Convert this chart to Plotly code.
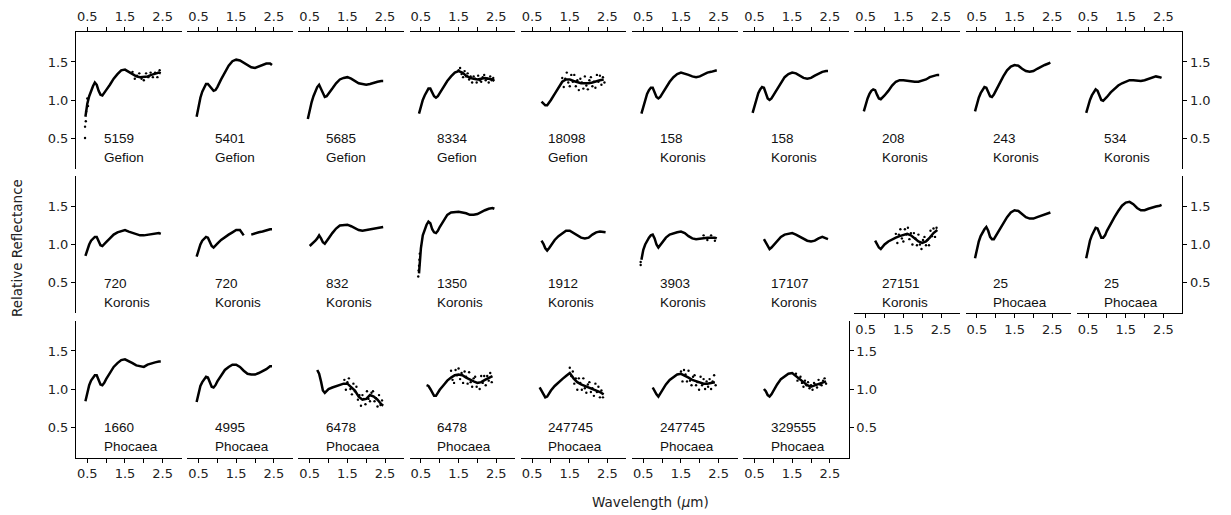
import plotly.graph_objects as go

# ---------------- data ----------------
N = None
WL = [0.45, 0.5, 0.55, 0.6, 0.65, 0.7, 0.75, 0.8, 0.85, 0.9, 0.95, 1.0, 1.1, 1.2,
      1.3, 1.4, 1.5, 1.6, 1.7, 1.8, 1.9, 2.0, 2.1, 2.2, 2.3, 2.4, 2.45]

r_5159 = [0.78,0.95,1.05,1.12,1.18,1.23,1.20,1.12,1.07,1.06,1.09,1.13,1.20,1.28,1.34,1.39,1.40,1.37,1.34,1.31,1.30,1.31,1.31,1.33,1.34,1.36,1.35]
r_5401 = [0.78,0.92,1.03,1.11,1.17,1.21,1.21,1.18,1.14,1.12,1.13,1.17,1.27,1.37,1.45,1.51,1.53,1.52,1.49,1.45,1.43,1.42,1.44,1.47,1.48,1.48,1.46]
r_5685 = [0.75,0.88,0.97,1.05,1.12,1.17,1.20,1.15,1.08,1.04,1.05,1.08,1.15,1.22,1.27,1.29,1.30,1.28,1.25,1.22,1.21,1.20,1.21,1.23,1.24,1.25,1.25]
r_8334 = [0.82,0.92,1.00,1.06,1.11,1.15,1.15,1.10,1.05,1.03,1.05,1.09,1.17,1.25,1.31,1.36,1.38,1.36,1.32,1.29,1.28,1.27,1.28,1.29,1.28,1.27,1.25]
r_18098 = [N,N,N,N,N,N,0.98,0.95,0.93,0.93,0.96,1.00,1.08,1.17,1.24,1.27,1.27,1.25,1.23,1.22,1.22,1.22,1.23,1.25,1.26,1.27,N]
r_158a = [0.82,0.92,1.01,1.08,1.13,1.16,1.16,1.10,1.04,1.02,1.04,1.08,1.16,1.24,1.30,1.34,1.36,1.35,1.33,1.31,1.30,1.31,1.34,1.36,1.37,1.38,1.39]
r_158b = [0.83,0.93,1.02,1.09,1.14,1.17,1.16,1.09,1.02,1.00,1.02,1.06,1.14,1.23,1.30,1.34,1.36,1.35,1.32,1.29,1.28,1.29,1.32,1.35,1.37,1.38,1.38]
r_208 = [0.85,0.94,1.02,1.08,1.12,1.14,1.13,1.07,1.02,1.01,1.03,1.06,1.12,1.19,1.24,1.26,1.26,1.25,1.24,1.24,1.24,1.25,1.27,1.30,1.32,1.33,1.33]
r_243 = [0.85,0.95,1.03,1.09,1.14,1.17,1.16,1.10,1.05,1.04,1.07,1.12,1.22,1.31,1.39,1.44,1.46,1.45,1.41,1.38,1.37,1.38,1.41,1.44,1.46,1.48,1.49]
r_534 = [0.83,0.92,1.00,1.06,1.11,1.14,1.12,1.05,1.00,0.99,1.01,1.04,1.10,1.15,1.19,1.22,1.24,1.26,1.26,1.25,1.25,1.26,1.28,1.30,1.31,1.30,1.29]
r_720a = [0.85,0.94,1.00,1.05,1.08,1.10,1.10,1.05,0.99,0.98,1.00,1.03,1.08,1.13,1.16,1.18,1.19,1.17,1.15,1.13,1.12,1.12,1.13,1.14,1.15,1.15,1.14]
r_720b = [0.84,0.93,1.00,1.05,1.08,1.10,1.09,1.03,0.98,0.96,0.98,1.01,1.06,1.10,1.13,1.16,1.19,1.19,1.12,N,1.13,1.15,1.16,1.17,1.19,1.20,1.20]
r_832 = [N,0.98,1.00,1.03,1.05,1.08,1.12,1.08,1.03,1.01,1.04,1.08,1.15,1.21,1.25,1.26,1.26,1.24,1.21,1.19,1.18,1.19,1.20,1.21,1.22,1.23,1.23]
r_1350 = [0.62,0.95,1.12,1.20,1.26,1.30,1.28,1.20,1.16,1.15,1.18,1.23,1.32,1.39,1.42,1.43,1.43,1.42,1.41,1.39,1.39,1.40,1.43,1.45,1.47,1.48,1.47]
r_1912 = [N,N,N,N,N,N,1.05,1.01,0.95,0.92,0.95,0.99,1.06,1.11,1.15,1.18,1.18,1.15,1.12,1.09,1.08,1.09,1.13,1.16,1.17,1.16,1.16]
r_3903 = [0.80,0.93,1.00,1.05,1.09,1.12,1.13,1.08,1.00,0.96,0.99,1.03,1.09,1.13,1.15,1.16,1.17,1.15,1.11,1.08,1.07,1.08,1.09,1.09,1.09,1.09,1.08]
r_17107 = [N,N,N,N,N,N,1.07,1.03,0.98,0.94,0.96,0.99,1.05,1.10,1.13,1.14,1.15,1.13,1.10,1.07,1.05,1.04,1.05,1.08,1.10,1.08,1.07]
r_27151 = [N,N,N,N,N,N,1.05,1.00,0.96,0.94,0.97,1.00,1.04,1.07,1.09,1.11,1.13,1.14,1.12,1.08,1.04,1.02,1.04,1.09,1.15,1.19,N]
r_25a = [0.82,0.94,1.04,1.11,1.16,1.20,1.23,1.18,1.10,1.07,1.07,1.11,1.20,1.28,1.36,1.42,1.45,1.44,1.40,1.36,1.34,1.34,1.36,1.38,1.40,1.41,1.42]
r_25b = [0.82,0.95,1.05,1.12,1.18,1.22,1.21,1.14,1.09,1.09,1.12,1.18,1.28,1.36,1.44,1.51,1.55,1.56,1.53,1.48,1.45,1.45,1.47,1.49,1.50,1.51,1.52]
r_1660 = [0.84,0.96,1.05,1.11,1.15,1.18,1.18,1.12,1.06,1.05,1.08,1.13,1.22,1.29,1.34,1.38,1.39,1.37,1.34,1.31,1.30,1.29,1.32,1.34,1.35,1.36,1.36]
r_4995 = [0.83,0.96,1.04,1.09,1.13,1.16,1.15,1.09,1.03,1.02,1.05,1.10,1.18,1.25,1.29,1.32,1.32,1.29,1.24,1.20,1.19,1.19,1.21,1.23,1.26,1.30,1.30]
r_6478a = [N,N,N,N,N,1.25,1.20,1.10,0.98,0.95,0.98,1.00,1.02,1.04,1.06,1.07,1.07,1.03,0.98,0.90,0.86,0.87,0.92,0.90,0.86,0.80,0.78]
r_6478b = [N,N,N,N,1.05,1.04,1.00,0.95,0.91,0.91,0.95,0.99,1.05,1.11,1.15,1.18,1.19,1.18,1.15,1.12,1.10,1.08,1.09,1.12,1.15,1.17,N]
r_247745a = [N,N,N,N,N,1.02,0.98,0.93,0.89,0.90,0.94,0.98,1.04,1.09,1.13,1.17,1.21,1.14,1.09,1.06,1.04,1.02,1.01,0.99,0.96,0.93,N]
r_247745b = [N,N,N,N,N,N,1.02,0.97,0.93,0.90,0.94,0.99,1.06,1.12,1.16,1.19,1.20,1.18,1.15,1.12,1.10,1.08,1.07,1.07,1.08,1.09,N]
r_329555 = [N,N,N,N,N,N,1.00,0.97,0.92,0.90,0.93,0.98,1.06,1.13,1.17,1.20,1.21,1.17,1.12,1.08,1.05,1.03,1.05,1.07,1.09,1.10,N]

SPECTRA = [r_5159, r_5401, r_5685, r_8334, r_18098, r_158a, r_158b, r_208, r_243, r_534,
           r_720a, r_720b, r_832, r_1350, r_1912, r_3903, r_17107, r_27151, r_25a, r_25b,
           r_1660, r_4995, r_6478a, r_6478b, r_247745a, r_247745b, r_329555]

NUMBERS = ["5159", "5401", "5685", "8334", "18098", "158", "158", "208", "243", "534",
           "720", "720", "832", "1350", "1912", "3903", "17107", "27151", "25", "25",
           "1660", "4995", "6478", "6478", "247745", "247745", "329555"]
FAMILIES = ["Gefion"] * 5 + ["Koronis"] * 13 + ["Phocaea"] * 9

# scattered (noisy) points
noise_x_5159 = [0.44, 0.44, 0.46, 0.47, 0.50, 0.52, 1.70, 1.76, 1.82, 1.88, 1.94, 2.00, 2.06, 2.12, 2.18, 2.24, 2.30, 2.36, 2.42]
noise_y_5159 = [0.50, 0.65, 0.72, 0.85, 1.02, 0.92, 1.37, 1.28, 1.32, 1.35, 1.28, 1.26, 1.35, 1.30, 1.36, 1.30, 1.36, 1.30, 1.39]
noise_x_8334 = [1.50, 1.54, 1.58, 1.62, 1.66, 1.70, 1.74, 1.78, 1.82, 1.86, 1.90, 1.94, 1.98, 2.02, 2.06, 2.10, 2.14, 2.18, 2.22, 2.26, 2.30, 2.34, 2.38, 2.42]
noise_y_8334 = [1.39, 1.42, 1.34, 1.30, 1.38, 1.31, 1.35, 1.27, 1.31, 1.23, 1.31, 1.28, 1.23, 1.32, 1.26, 1.24, 1.30, 1.33, 1.26, 1.28, 1.23, 1.31, 1.26, 1.29]
noise_x_18098 = [1.30, 1.34, 1.38, 1.42, 1.46, 1.50, 1.54, 1.58, 1.62, 1.66, 1.70, 1.74, 1.78, 1.82, 1.86, 1.90, 1.94, 1.98, 2.02, 2.06, 2.10, 2.14, 2.18, 2.22, 2.26, 2.30, 2.34, 2.38, 2.42]
noise_y_18098 = [1.29, 1.17, 1.28, 1.36, 1.23, 1.18, 1.33, 1.24, 1.33, 1.18, 1.26, 1.13, 1.28, 1.23, 1.15, 1.31, 1.19, 1.14, 1.26, 1.30, 1.18, 1.24, 1.16, 1.33, 1.24, 1.32, 1.20, 1.30, 1.23]
noise_x_27151 = [1.30, 1.34, 1.38, 1.42, 1.46, 1.50, 1.54, 1.58, 1.62, 1.66, 1.70, 1.74, 1.78, 1.82, 1.86, 1.90, 1.94, 1.98, 2.02, 2.06, 2.10, 2.14, 2.18, 2.22, 2.26, 2.30, 2.34, 2.38]
noise_y_27151 = [1.14, 1.02, 1.13, 1.20, 1.08, 1.04, 1.20, 1.13, 1.22, 1.07, 1.15, 1.00, 1.15, 1.08, 0.99, 1.13, 1.00, 0.94, 1.06, 1.10, 0.99, 1.06, 0.99, 1.18, 1.11, 1.21, 1.10, 1.22]
noise_x_6478a = [1.42, 1.46, 1.50, 1.54, 1.58, 1.62, 1.66, 1.70, 1.74, 1.78, 1.82, 1.86, 1.90, 1.94, 1.98, 2.02, 2.06, 2.10, 2.14, 2.18, 2.22, 2.26, 2.30, 2.34, 2.38, 2.42]
noise_y_6478a = [1.12, 0.99, 1.09, 1.14, 1.00, 0.93, 1.07, 0.97, 1.03, 0.86, 0.92, 0.78, 0.92, 0.87, 0.80, 0.97, 0.87, 0.84, 0.95, 0.97, 0.84, 0.88, 0.77, 0.92, 0.79, 0.85]
noise_x_6478b = [1.30, 1.34, 1.38, 1.42, 1.46, 1.50, 1.54, 1.58, 1.62, 1.66, 1.70, 1.74, 1.78, 1.82, 1.86, 1.90, 1.94, 1.98, 2.02, 2.06, 2.10, 2.14, 2.18, 2.22, 2.26, 2.30, 2.34, 2.38]
noise_y_6478b = [1.24, 1.12, 1.08, 1.25, 1.18, 1.27, 1.13, 1.21, 1.08, 1.23, 1.16, 1.07, 1.22, 1.09, 1.03, 1.14, 1.16, 1.03, 1.08, 1.00, 1.17, 1.08, 1.17, 1.05, 1.17, 1.11, 1.21, 1.09]
noise_x_247745a = [1.50, 1.54, 1.58, 1.62, 1.66, 1.70, 1.74, 1.78, 1.82, 1.86, 1.90, 1.94, 1.98, 2.02, 2.06, 2.10, 2.14, 2.18, 2.22, 2.26, 2.30, 2.34, 2.38]
noise_y_247745a = [1.28, 1.17, 1.23, 1.07, 1.14, 0.99, 1.14, 1.08, 0.99, 1.14, 1.01, 0.95, 1.06, 1.09, 0.96, 1.01, 0.91, 1.07, 0.96, 1.03, 0.89, 0.98, 0.89]
noise_x_247745b = [1.50, 1.54, 1.58, 1.62, 1.66, 1.70, 1.74, 1.78, 1.82, 1.86, 1.90, 1.94, 1.98, 2.02, 2.06, 2.10, 2.14, 2.18, 2.22, 2.26, 2.30, 2.34, 2.38, 2.42]
noise_y_247745b = [1.23, 1.10, 1.25, 1.19, 1.10, 1.24, 1.11, 1.05, 1.16, 1.18, 1.05, 1.09, 0.99, 1.16, 1.05, 1.13, 1.00, 1.10, 1.03, 1.13, 1.00, 1.10, 1.18, 1.05]
noise_x_329555 = [1.60, 1.64, 1.68, 1.72, 1.76, 1.80, 1.84, 1.88, 1.92, 1.96, 2.00, 2.04, 2.08, 2.12, 2.16, 2.20, 2.24, 2.28, 2.32, 2.36, 2.40]
noise_y_329555 = [1.20, 1.11, 1.14, 1.16, 1.08, 1.03, 1.11, 1.05, 1.09, 1.01, 1.05, 0.99, 1.08, 1.06, 1.02, 1.12, 1.06, 1.05, 1.11, 1.14, 1.07]
noise_x_1350 = [0.43, 0.44, 0.45, 0.46, 0.47]
noise_y_1350 = [0.58, 0.66, 0.72, 0.80, 0.88]
noise_x_3903 = [0.43, 0.43, 2.10, 2.20, 2.30, 2.40]
noise_y_3903 = [0.73, 0.77, 1.12, 1.06, 1.12, 1.05]

NOISE = {0: (noise_x_5159, noise_y_5159), 3: (noise_x_8334, noise_y_8334),
         4: (noise_x_18098, noise_y_18098), 13: (noise_x_1350, noise_y_1350),
         15: (noise_x_3903, noise_y_3903), 17: (noise_x_27151, noise_y_27151),
         22: (noise_x_6478a, noise_y_6478a), 23: (noise_x_6478b, noise_y_6478b),
         24: (noise_x_247745a, noise_y_247745a), 25: (noise_x_247745b, noise_y_247745b),
         26: (noise_x_329555, noise_y_329555)}

X_TICKS = [0.5, 1.0, 1.5, 2.0, 2.5]
X_TICKTEXT = ["0.5", "", "1.5", "", "2.5"]
Y_TICKS = [0.5, 1.0, 1.5]
Y_TICKTEXT = ["0.5", "1.0", "1.5"]

for s in SPECTRA:
    assert len(s) == len(WL)
for k, (a, b) in NOISE.items():
    assert len(a) == len(b), k

# ---------------- layout ----------------
W, H = 1231, 515
LEFT0, PITCH_X, PW = 76.0, 111.2, 105.5
TOP0, PITCH_Y, PH = 31.5, 144.5, 137.0

TICK_FONT = dict(family="DejaVu Sans", size=13, color="#222222")
LABEL_FONT = dict(family="Liberation Sans, Arial", size=13.5, color="#111111")

fig = go.Figure()
annotations = []

for i, (vals, num, fam) in enumerate(zip(SPECTRA, NUMBERS, FAMILIES)):
    r, c = divmod(i, 10)
    sfx = "" if i == 0 else str(i + 1)
    left = LEFT0 + c * PITCH_X
    top = TOP0 + r * PITCH_Y
    xd = [left / W, (left + PW) / W]
    yd = [1 - (top + PH) / H, 1 - top / H]

    fig.add_trace(go.Scatter(x=WL, y=vals, mode="lines",
                             line=dict(color="black", width=2.5),
                             connectgaps=False, hoverinfo="skip", showlegend=False,
                             xaxis="x" + sfx, yaxis="y" + sfx))
    if i in NOISE:
        nx, ny = NOISE[i]
        fig.add_trace(go.Scatter(x=nx, y=ny, mode="markers",
                                 marker=dict(color="black", size=2.4),
                                 hoverinfo="skip", showlegend=False,
                                 xaxis="x" + sfx, yaxis="y" + sfx))

    show_x_top = r == 0
    show_x_bot = (r == 2) or (r == 1 and c >= 7)
    xa = dict(domain=xd, range=[0.2, 3.0], anchor="y" + sfx,
              showgrid=False, zeroline=False, fixedrange=True)
    if show_x_top or show_x_bot:
        xa.update(visible=True, side="top" if show_x_top else "bottom",
                  showline=True, linecolor="black", linewidth=1,
                  ticks="outside", ticklen=4, tickwidth=1, tickcolor="black",
                  tickmode="array", tickvals=X_TICKS, ticktext=X_TICKTEXT,
                  tickfont=TICK_FONT)
    else:
        xa.update(visible=False)

    show_y_left = c == 0
    show_y_right = (c == 9 and r < 2) or (r == 2 and c == 6)
    ya = dict(domain=yd, range=[0.1, 1.9], anchor="x" + sfx,
              showgrid=False, zeroline=False, fixedrange=True)
    if show_y_left or show_y_right:
        ya.update(visible=True, side="left" if show_y_left else "right",
                  showline=True, linecolor="black", linewidth=1,
                  ticks="outside", ticklen=4, tickwidth=1, tickcolor="black",
                  tickmode="array", tickvals=Y_TICKS, ticktext=Y_TICKTEXT,
                  tickfont=TICK_FONT)
    else:
        ya.update(visible=False)

    fig.update_layout(**{"xaxis" + sfx: xa, "yaxis" + sfx: ya})

    annotations.append(dict(x=0.88, y=0.49, xref="x" + sfx, yref="y" + sfx,
                            text=num, showarrow=False, xanchor="left",
                            yanchor="middle", font=LABEL_FONT))
    annotations.append(dict(x=0.88, y=0.24, xref="x" + sfx, yref="y" + sfx,
                            text=fam, showarrow=False, xanchor="left",
                            yanchor="middle", font=LABEL_FONT))

annotations.append(dict(x=17 / W, y=1 - 248 / H, xref="paper", yref="paper",
                        text="Relative Reflectance", textangle=-90, showarrow=False,
                        xanchor="center", yanchor="middle",
                        font=dict(family="DejaVu Sans", size=13.5, color="#222222")))
annotations.append(dict(x=650 / W, y=1 - 502 / H, xref="paper", yref="paper",
                        text="Wavelength (<i>μ</i>m)", showarrow=False,
                        xanchor="center", yanchor="middle",
                        font=dict(family="DejaVu Sans", size=13.5, color="#222222")))

fig.update_layout(width=W, height=H, margin=dict(l=0, r=0, t=0, b=0),
                  paper_bgcolor="white", plot_bgcolor="white",
                  annotations=annotations, showlegend=False)

fig.write_html("out.html")
